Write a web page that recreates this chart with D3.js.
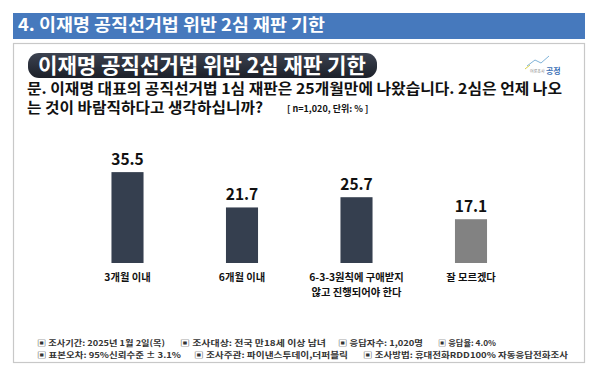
<!DOCTYPE html>
<html>
<head>
<meta charset="utf-8">
<script src="https://cdn.jsdelivr.net/npm/d3@7"></script>
<style>
  html, body { margin: 0; padding: 0; background: #fff; }
  svg { display: block; font-family: "Noto Sans CJK KR", "Noto Sans", sans-serif; }
</style>
</head>
<body>
<svg id="chart" width="600" height="371"></svg>
<script>
// data
const categories = ["3개월 이내", "6개월 이내", "6-3-3원칙에 구애받지|않고 진행되어야 한다", "잘 모르겠다"];
const values = [35.5, 21.7, 25.7, 17.1];
const barColors = ["#353f4f", "#353f4f", "#353f4f", "#828282"];

const headerTitle = "4. 이재명 공직선거법 위반 2심 재판 기한";
const pillTitle = "이재명 공직선거법 위반 2심 재판 기한";
const question = ["문. 이재명 대표의 공직선거법 1심 재판은 25개월만에 나왔습니다. 2심은 언제 나오",
                  "는 것이 바람직하다고 생각하십니까?"];
const unitNote = "[ n=1,020, 단위: % ]";
const footerRow1 = ["▣ 조사기간: 2025년 1월 2일(목)", "▣ 조사대상: 전국 만18세 이상 남녀", "▣ 응답자수: 1,020명", "▣ 응답율: 4.0%"];
const footerRow2 = ["▣ 표본오차: 95%신뢰수준 ± 3.1%", "▣ 조사주관: 파이낸스투데이,더퍼블릭", "▣ 조사방법: 휴대전화RDD100% 자동응답전화조사"];

const svg = d3.select("#chart");
const data = categories.map((c, i) => ({cat: c, value: values[i], color: barColors[i]}));

// frame
svg.append("rect").attr("x", 13).attr("y", 13).attr("width", 572).attr("height", 26).attr("fill", "#4679bd");
svg.append("text").attr("x", 18).attr("y", 31)
    .attr("font-size", 17).attr("font-weight", "bold").attr("fill", "#fff")
    .attr("textLength", 307).attr("lengthAdjust", "spacingAndGlyphs")
    .text(headerTitle);

svg.append("rect").attr("x", 13.5).attr("y", 43.5).attr("width", 571).attr("height", 319)
    .attr("fill", "#fff").attr("stroke", "#c8c8c8").attr("stroke-width", 1.2);

// pill title
const grad = svg.append("defs").append("linearGradient").attr("id", "pill").attr("x1", 0).attr("y1", 0).attr("x2", 0).attr("y2", 1);
grad.append("stop").attr("offset", "0%").attr("stop-color", "#3c4250");
grad.append("stop").attr("offset", "100%").attr("stop-color", "#1c2029");
svg.append("rect").attr("x", 28).attr("y", 53).attr("width", 349).attr("height", 25).attr("rx", 11)
    .attr("fill", "url(#pill)");
svg.append("text").attr("x", 38).attr("y", 73)
    .attr("font-size", 21).attr("font-weight", "bold").attr("fill", "#fff")
    .attr("textLength", 328).attr("lengthAdjust", "spacingAndGlyphs")
    .text(pillTitle);

// logo
const logo = svg.append("g");
logo.append("polyline").attr("points", "527,66 535,60 541,63 549,56")
    .attr("fill", "none").attr("stroke", "#7fb3d9").attr("stroke-width", 1);
logo.append("line").attr("x1", 525).attr("y1", 69).attr("x2", 530).attr("y2", 65)
    .attr("stroke", "#d9d24a").attr("stroke-width", 1);
logo.append("text").attr("x", 530).attr("y", 73).attr("font-size", 4).attr("fill", "#888").text("여론조사");
logo.append("text").attr("x", 546).attr("y", 74).attr("font-size", 8).attr("font-weight", "bold").attr("fill", "#3a6fb5").text("공정");

// question
svg.append("text").attr("x", 27).attr("y", 94)
    .attr("font-size", 15).attr("font-weight", "bold").attr("fill", "#111")
    .attr("textLength", 535).attr("lengthAdjust", "spacingAndGlyphs")
    .text(question[0]);
svg.append("text").attr("x", 27).attr("y", 113)
    .attr("font-size", 15).attr("font-weight", "bold").attr("fill", "#111")
    .attr("textLength", 236).attr("lengthAdjust", "spacingAndGlyphs")
    .text(question[1]);
svg.append("text").attr("x", 287).attr("y", 112)
    .attr("font-size", 9).attr("font-weight", "bold").attr("fill", "#111")
    .text(unitNote);

// scales
const x = d3.scaleBand().domain(categories).range([70.25, 528.25]).paddingInner(0.72).paddingOuter(0.36);
const y = d3.scaleLinear().domain([0, 40]).range([263, 160.6]);

const bars = svg.append("g");
bars.selectAll("rect")
    .data(data)
    .join("rect")
    .attr("x", d => x(d.cat))
    .attr("y", d => y(d.value))
    .attr("width", x.bandwidth())
    .attr("height", d => y(0) - y(d.value))
    .attr("fill", d => d.color);

bars.selectAll(".val")
    .data(data)
    .join("text")
    .attr("class", "val")
    .attr("x", d => x(d.cat) + x.bandwidth() / 2)
    .attr("y", d => y(d.value) - 7)
    .attr("text-anchor", "middle")
    .attr("font-size", 15.5).attr("font-weight", "bold").attr("fill", "#111")
    .text(d => d.value.toFixed(1));

const labels = bars.selectAll(".cat")
    .data(data)
    .join("text")
    .attr("class", "cat")
    .attr("x", d => x(d.cat) + x.bandwidth() / 2)
    .attr("y", 281)
    .attr("text-anchor", "middle")
    .attr("font-size", 10.3).attr("font-weight", "bold").attr("fill", "#111");
labels.selectAll("tspan")
    .data(d => d.cat.split("|").map(t => ({t, cx: x(d.cat) + x.bandwidth() / 2})))
    .join("tspan")
    .attr("x", d => d.cx)
    .attr("dy", (d, i) => i ? 15 : 0)
    .text(d => d.t);

// footer
const row1X = [37, 180, 338, 438];
const row1W = [128, 146, 85, 58];
const row2X = [37, 194, 363];
const row2W = [144, 154, 205];
const foot = svg.append("g").attr("font-size", 8).attr("font-weight", "bold").attr("fill", "#333");
foot.selectAll(".f1").data(footerRow1).join("text").attr("class", "f1")
    .attr("x", (d, i) => row1X[i]).attr("y", 345.5)
    .attr("textLength", (d, i) => row1W[i]).attr("lengthAdjust", "spacingAndGlyphs")
    .text(d => d);
foot.selectAll(".f2").data(footerRow2).join("text").attr("class", "f2")
    .attr("x", (d, i) => row2X[i]).attr("y", 357.5)
    .attr("textLength", (d, i) => row2W[i]).attr("lengthAdjust", "spacingAndGlyphs")
    .text(d => d);
</script>
</body>
</html>
